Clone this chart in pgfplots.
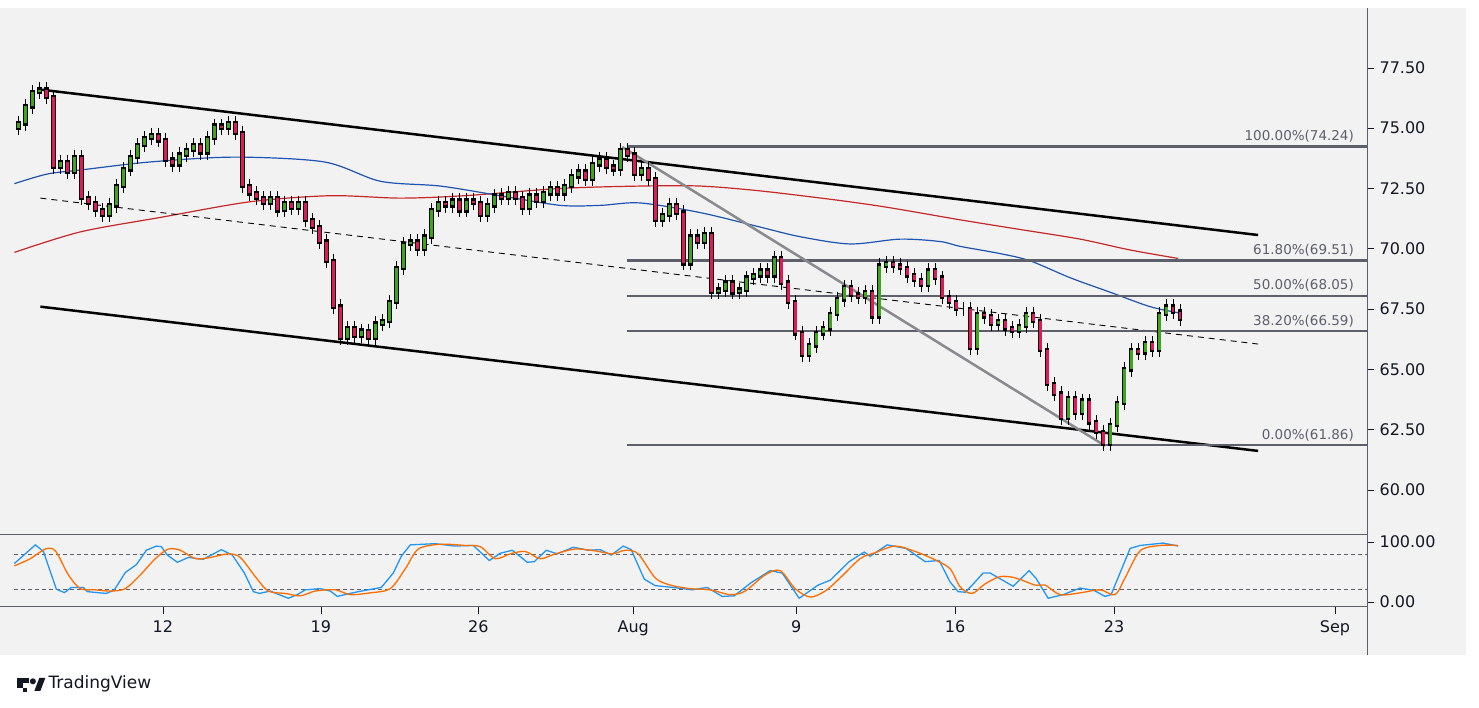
\documentclass[border=0pt]{standalone}
\usepackage{pgfplots}
\usepackage{pgfplotstable}
\pgfplotsset{compat=1.18}
\usepackage{fontspec}
\setmainfont{DejaVu Sans}
\definecolor{bg}{HTML}{F2F2F2}
\definecolor{up}{HTML}{3FA51B}
\definecolor{dn}{HTML}{E0195A}
\definecolor{fib}{HTML}{5D606B}
\definecolor{diag}{HTML}{8A8A8E}
\definecolor{maB}{HTML}{1E55B3}
\definecolor{maR}{HTML}{C62828}
\definecolor{stK}{HTML}{2196F3}
\definecolor{stD}{HTML}{FF6D00}
\definecolor{txt}{HTML}{131722}
\pgfplotstableread{
i o c
0 75.0 75.2
1 75.2 75.9
2 75.9 76.5
3 76.5 76.6
4 76.6 76.3
5 76.3 73.4
6 73.4 73.6
7 73.6 73.2
8 73.2 73.8
9 73.8 72.1
10 72.1 71.9
11 71.9 71.6
12 71.6 71.4
13 71.4 71.8
14 71.8 72.6
15 72.6 73.3
16 73.3 73.8
17 73.8 74.3
18 74.3 74.6
19 74.6 74.7
20 74.7 74.5
21 74.5 73.7
22 73.7 73.5
23 73.5 73.9
24 73.9 74.1
25 74.1 74.3
26 74.3 74.0
27 74.0 74.6
28 74.6 75.1
29 75.1 75.0
30 75.0 75.2
31 75.2 74.8
32 74.8 72.6
33 72.6 72.3
34 72.3 72.1
35 72.1 71.9
36 71.9 72.1
37 72.1 71.6
38 71.6 71.9
39 71.9 71.7
40 71.7 71.9
41 71.9 71.2
42 71.2 70.9
43 70.9 70.3
44 70.3 69.5
45 69.5 67.6
46 67.6 66.3
47 66.3 66.7
48 66.7 66.4
49 66.4 66.6
50 66.6 66.3
51 66.3 66.9
52 66.9 67.0
53 67.0 67.8
54 67.8 69.2
55 69.2 70.2
56 70.2 70.3
57 70.3 70.0
58 70.0 70.5
59 70.5 71.6
60 71.6 71.9
61 71.9 71.8
62 71.8 72.0
63 72.0 71.6
64 71.6 72.0
65 72.0 71.9
66 71.9 71.4
67 71.4 71.8
68 71.8 72.2
69 72.2 72.1
70 72.1 72.3
71 72.3 72.1
72 72.1 71.7
73 71.7 72.2
74 72.2 72.0
75 72.0 72.3
76 72.3 72.5
77 72.5 72.3
78 72.3 72.6
79 72.6 73.0
80 73.0 73.2
81 73.2 72.9
82 72.9 73.5
83 73.5 73.7
84 73.7 73.4
85 73.4 73.3
86 73.3 74.1
87 74.1 73.9
88 73.9 73.1
89 73.1 73.3
90 73.3 72.9
91 72.9 71.2
92 71.2 71.4
93 71.4 71.8
94 71.8 71.5
95 71.5 69.4
96 69.4 70.5
97 70.5 70.3
98 70.3 70.6
99 70.6 68.2
100 68.2 68.3
101 68.3 68.6
102 68.6 68.2
103 68.2 68.3
104 68.3 68.8
105 68.8 68.9
106 68.9 69.1
107 69.1 68.9
108 68.9 69.6
109 69.6 68.6
110 68.6 67.8
111 67.8 66.5
112 66.5 65.6
113 65.6 66.0
114 66.0 66.5
115 66.5 66.7
116 66.7 67.3
117 67.3 67.9
118 67.9 68.4
119 68.4 68.1
120 68.1 68.0
121 68.0 68.2
122 68.2 67.2
123 67.2 69.3
124 69.3 69.4
125 69.4 69.3
126 69.3 69.2
127 69.2 68.9
128 68.9 68.7
129 68.7 68.5
130 68.5 69.1
131 69.1 68.8
132 68.8 68.0
133 68.0 67.8
134 67.8 67.5
135 67.5 67.5
136 67.5 65.9
137 65.9 67.3
138 67.3 67.2
139 67.2 66.9
140 66.9 67.0
141 67.0 66.7
142 66.7 66.6
143 66.6 66.8
144 66.8 67.3
145 67.3 67.0
146 67.0 65.8
147 65.8 64.4
148 64.4 64.0
149 64.0 63.0
150 63.0 63.8
151 63.8 63.2
152 63.2 63.7
153 63.7 62.8
154 62.8 62.4
155 62.4 61.9
156 61.9 62.7
157 62.7 63.6
158 63.6 65.0
159 65.0 65.8
160 65.8 65.7
161 65.7 66.1
162 66.1 65.8
163 65.8 67.3
164 67.3 67.6
165 67.6 67.4
166 67.4 67.1
}\candles
\begin{document}
\begin{tikzpicture}[x=1pt,y=1pt]
\fill[white] (0,0) rectangle (1479,708);
\fill[bg] (0,53) rectangle (1466,700);
% main panel
\begin{axis}[at={(14pt,173pt)},anchor=south west,scale only axis,
  width=1353pt,height=525pt,xmin=14,xmax=1367,ymin=58.14,ymax=79.9,
  axis line style={draw=none},xtick=\empty,
  ytick={60,62.5,65,67.5,70,72.5,75,77.5},
  yticklabels={60.00,62.50,65.00,67.50,70.00,72.50,75.00,77.50},
  ytick pos=right,yticklabel pos=right,tick align=outside,
  major tick length=7pt,tick style={txt,line width=0.6pt},
  yticklabel style={font=\fontsize{16}{16}\selectfont,text=txt,xshift=2pt},
  clip=false]
\addplot[maR,line width=1.2pt,smooth] coordinates {(14,69.85)(80,70.7)(160,71.3)(250,71.95)(330,72.2)(400,72.1)(464,72.2)(560,72.5)(640,72.6)(700,72.6)(760,72.4)(840,72.0)(890,71.7)(960,71.2)(1020,70.8)(1080,70.4)(1130,69.95)(1178,69.6)};
\addplot[maB,line width=1.2pt,smooth] coordinates {(14,72.7)(47,73.1)(81,73.27)(150,73.6)(234,73.8)(324,73.6)(380,72.8)(440,72.6)(500,72.2)(560,71.8)(600,71.8)(640,71.9)(700,71.5)(760,70.9)(800,70.5)(850,70.2)(900,70.4)(940,70.3)(960,70.1)(1000,69.8)(1030,69.5)(1070,68.8)(1110,68.2)(1150,67.6)(1178,67.35)};
% channel
\addplot[black,line width=2.5pt] coordinates {(40,76.6)(1258,70.57)};
\addplot[black,line width=2.5pt] coordinates {(40,67.6)(1258,61.62)};
\addplot[black,line width=0.9pt,dash pattern=on 6pt off 5pt] coordinates {(40,72.1)(1258,66.05)};
% fib
\foreach \v in {74.24,69.51,68.05,66.59,61.86}{
  \edef\tmp{\noexpand\addplot[fib,line width=2.2pt] coordinates {(627,\v)(1367,\v)};}\tmp}
\addplot[diag,line width=2.5pt] coordinates {(622,74.22)(1105,61.83)};
% candles
\addplot[draw=none,mark=none,error bars/.cd,y dir=both,y explicit,error mark=none,
  error bar style={black,line width=1pt}] table[x expr=18+7*\thisrow{i},
  y expr=(\thisrow{o}+\thisrow{c})/2,
  y error expr=abs(\thisrow{o}-\thisrow{c})/2+0.3]{\candles};
\addplot[draw=none,mark=none,restrict expr to domain={\thisrow{c}-\thisrow{o}}{0:100},
  error bars/.cd,y dir=both,y explicit,error mark=none,
  error bar style={black,line width=4.6pt,line cap=rect}] table[x expr=18+7*\thisrow{i},
  y expr=(\thisrow{o}+\thisrow{c})/2,
  y error expr=abs(\thisrow{o}-\thisrow{c})/2]{\candles};
\addplot[draw=none,mark=none,restrict expr to domain={\thisrow{c}-\thisrow{o}}{0:100},
  error bars/.cd,y dir=both,y explicit,error mark=none,
  error bar style={up,line width=2.8pt}] table[x expr=18+7*\thisrow{i},
  y expr=(\thisrow{o}+\thisrow{c})/2,
  y error expr=abs(\thisrow{o}-\thisrow{c})/2]{\candles};
\addplot[draw=none,mark=none,restrict expr to domain={\thisrow{c}-\thisrow{o}}{-100:-0.001},
  error bars/.cd,y dir=both,y explicit,error mark=none,
  error bar style={black,line width=4.6pt,line cap=rect}] table[x expr=18+7*\thisrow{i},
  y expr=(\thisrow{o}+\thisrow{c})/2,
  y error expr=abs(\thisrow{o}-\thisrow{c})/2]{\candles};
\addplot[draw=none,mark=none,restrict expr to domain={\thisrow{c}-\thisrow{o}}{-100:-0.001},
  error bars/.cd,y dir=both,y explicit,error mark=none,
  error bar style={dn,line width=2.8pt}] table[x expr=18+7*\thisrow{i},
  y expr=(\thisrow{o}+\thisrow{c})/2,
  y error expr=abs(\thisrow{o}-\thisrow{c})/2]{\candles};
\begin{scope}[every node/.style={anchor=south east,font=\fontsize{13.5}{13.5}\selectfont,text=fib,inner sep=1pt,yshift=3pt}]
\node at (axis cs:1355,74.24) {100.00\%(74.24)};
\node at (axis cs:1355,69.51) {61.80\%(69.51)};
\node at (axis cs:1355,68.05) {50.00\%(68.05)};
\node at (axis cs:1355,66.59) {38.20\%(66.59)};
\node at (axis cs:1355,61.86) {0.00\%(61.86)};
\end{scope}
\end{axis}
% stochastic panel
\begin{axis}[at={(14pt,101pt)},anchor=south west,scale only axis,
  width=1353pt,height=72pt,xmin=14,xmax=1367,ymin=-8.33,ymax=111.7,
  axis line style={draw=none},
  ytick={0,100},yticklabels={0.00,100.00},
  ytick pos=right,yticklabel pos=right,
  xtick={162.5,320.5,478,633,796,955,1114,1335},
  xticklabels={12,19,26,Aug,9,16,23,Sep},xtick pos=bottom,
  tick align=outside,major tick length=7pt,tick style={txt,line width=0.6pt},
  yticklabel style={font=\fontsize{16}{16}\selectfont,text=txt,xshift=2pt},
  xticklabel style={font=\fontsize{16}{16}\selectfont,text=txt,yshift=-3pt},
  clip=false]
\addplot[fib,line width=0.7pt,dash pattern=on 4pt off 3pt] coordinates {(14,80)(1367,80)};
\addplot[fib,line width=0.7pt,dash pattern=on 4pt off 3pt] coordinates {(14,20)(1367,20)};
\addplot[stK,line width=1.3pt] coordinates {(14,64)(35,95)(43,84)(56,21)(64,15.5)(71,24)(83,24)(87,17)(106,14)(114,20)(125,49)(136,62)(146,86)(156,93)(161,92)(167,78)(177,66)(188,74)(203,71)(221,87)(232,78)(244,48)(253,17)(259,14)(270,18)(288,6)(297,12)(305,20)(320,22)(330,18)(337,9)(347,13)(358,17)(381,24)(393,48)(401,76)(410,95)(435,97)(454,93)(473,94)(489,69)(500,81)(512,86)(527,66)(534,67)(546,86)(557,80)(573,91)(588,86)(600,87)(611,78)(623,93)(631,87)(644,38)(655,27)(673,24)(692,20)(707,24)(722,9)(734,10)(751,32)(770,52)(782,48)(799,6)(818,28)(830,36)(849,67)(864,83)(870,76)(887,95)(906,89)(925,67)(939,69)(950,33)(958,17)(965,16)(971,26)(983,48)(990,48)(1013,26)(1029,52)(1036,39)(1048,6)(1063,12)(1080,23)(1094,19)(1105,9)(1111,12)(1130,89)(1140,94)(1163,98)(1178,93)};
\addplot[stD,line width=1.3pt,smooth] coordinates {(14,60)(30,72)(45,88)(55,85)(68,45)(80,22)(95,20)(110,18)(125,22)(140,45)(155,72)(168,88)(180,86)(195,72)(210,74)(228,80)(240,74)(255,42)(268,18)(285,14)(300,10)(315,18)(335,20)(350,12)(370,15)(390,22)(405,55)(418,88)(440,96)(465,94)(480,92)(495,72)(510,80)(525,84)(540,72)(555,80)(575,88)(595,85)(612,80)(625,86)(638,80)(655,40)(670,28)(690,22)(710,20)(730,12)(745,18)(765,45)(780,52)(795,22)(810,8)(825,18)(840,40)(860,72)(875,82)(895,93)(915,84)(935,70)(950,55)(960,25)(972,14)(985,30)(1000,42)(1015,40)(1035,28)(1045,28)(1060,12)(1080,15)(1100,20)(1115,12)(1125,40)(1140,85)(1160,94)(1178,94)};
\end{axis}
% frame lines
\draw[fib,line width=0.8pt] (1367,53) -- (1367,700);
\draw[fib,line width=0.8pt] (0,173) -- (1367,173);
\draw[fib,line width=0.8pt] (0,101) -- (1367,101);
% logo
\fill[txt] (17,20) rectangle (29,30);
\fill[white] (23,16) rectangle (29,24.5);
\fill[txt] (23,20) rectangle (26.5,16);
\fill[txt] (32.5,26.5) circle (3);
\fill[txt] (34,17) -- (39,30) -- (45,30) -- (40,17) -- cycle;
\node[anchor=west,font=\fontsize{17}{17}\selectfont,text=txt,inner sep=0] at (48,24) {TradingView};
\end{tikzpicture}
\end{document}
